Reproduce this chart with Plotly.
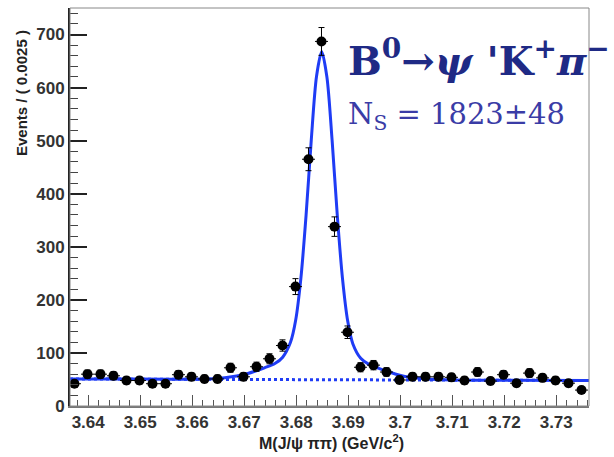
import numpy as np
import plotly.graph_objects as go

# ---- data ----
bin_width = 0.0025
bin_centers = np.round(3.63736 + bin_width * np.arange(40), 5)
counts = [42, 60, 60, 57, 48, 48, 42, 42, 59, 55,
          51, 51, 72, 55, 74, 89, 114, 225, 465, 687,
          338, 139, 73, 77, 64, 49, 55, 55, 55, 54,
          48, 64, 47, 59, 43, 62, 53, 48, 43, 30]

# fitted total PDF
fit_x = [3.6365, 3.6450, 3.6550, 3.6599, 3.6649, 3.6679, 3.6699, 3.6719, 3.6739,
         3.6759, 3.6774, 3.6789, 3.6799, 3.6809, 3.6819, 3.6829, 3.6839, 3.6849,
         3.6859, 3.6869, 3.6879, 3.6889, 3.6899, 3.6909, 3.6924, 3.6939, 3.6959,
         3.6979, 3.6999, 3.7019, 3.7049, 3.7099, 3.7200, 3.7363]
fit_y = [51.0, 50.8, 50.5, 50.4, 52.0, 55.5, 59.0, 65.0, 72.0,
         80.0, 92.0, 120.0, 162.0, 241.0, 360.0, 502.0, 621.0, 668.0,
         620.0, 501.0, 359.0, 240.0, 160.0, 117.0, 90.0, 79.0, 71.0,
         64.0, 58.0, 54.0, 51.0, 49.2, 48.6, 48.0]

# background component (dotted)
bkg_x = [3.6365, 3.7363]
bkg_y = [51.0, 48.0]

x_tickvals = [3.64, 3.65, 3.66, 3.67, 3.68, 3.69, 3.70, 3.71, 3.72, 3.73]
x_ticktext = ["3.64", "3.65", "3.66", "3.67", "3.68", "3.69", "3.7", "3.71", "3.72", "3.73"]
y_tickvals = [0, 100, 200, 300, 400, 500, 600, 700]

errors = np.sqrt(np.array(counts, dtype=float))

BLUE = "#1f3cf5"

fig = go.Figure()
fig.add_trace(go.Scatter(x=bkg_x, y=bkg_y, mode="lines",
                         line=dict(color=BLUE, width=3, dash="dot"),
                         showlegend=False, hoverinfo="skip"))
fig.add_trace(go.Scatter(x=fit_x, y=fit_y, mode="lines",
                         line=dict(color=BLUE, width=3, shape="spline", smoothing=0.8),
                         showlegend=False, hoverinfo="skip"))
fig.add_trace(go.Scatter(x=bin_centers, y=counts, mode="markers",
                         marker=dict(color="black", size=10),
                         error_y=dict(type="data", array=errors, color="black", thickness=1, width=3),
                         error_x=dict(type="constant", value=bin_width / 2, color="black", thickness=1, width=0),
                         showlegend=False))

tickfont = dict(family="Liberation Sans", size=17, color="#333333", weight="bold")

fig.update_layout(
    width=614, height=457,
    margin=dict(l=70, r=25, t=8, b=51),
    paper_bgcolor="white", plot_bgcolor="white",
    xaxis=dict(range=[3.6365, 3.7363], tickmode="array", tickvals=x_tickvals, ticktext=x_ticktext,
               ticks="inside", ticklen=11, tickwidth=1, tickcolor="#555555",
               showline=True, linecolor="#777777", linewidth=2,
               showgrid=False, zeroline=False, tickfont=tickfont,
               minor=dict(tick0=3.64, dtick=0.002, ticks="inside", ticklen=6,
                          tickcolor="#555555", tickwidth=1, showgrid=False)),
    yaxis=dict(range=[0, 750], tickmode="array", tickvals=y_tickvals,
               ticks="inside", ticklen=17, tickwidth=2, tickcolor="#222222",
               showline=True, linecolor="#222222", linewidth=2,
               showgrid=False, zeroline=False, tickfont=tickfont,
               minor=dict(tick0=0, dtick=20, ticks="inside", ticklen=8,
                          tickcolor="#444444", tickwidth=1, showgrid=False)),
    shapes=[dict(type="rect", xref="paper", yref="paper", x0=0, x1=1, y0=0, y1=1,
                 line=dict(color="#888888", width=1), layer="above")],
    annotations=[
        dict(text="Events / ( 0.0025 )", xref="paper", yref="paper",
             x=(22 - 70) / 519, y=(406 - 93) / 398, textangle=-90,
             xanchor="center", yanchor="middle", showarrow=False,
             font=dict(family="Liberation Sans", size=15, color="#222222", weight="bold")),
        dict(text="M(J/ψ ππ) (GeV/c<sup>2</sup>)", xref="paper", yref="paper",
             x=(331 - 70) / 519, y=(406 - 442) / 398,
             xanchor="center", yanchor="middle", showarrow=False,
             font=dict(family="Liberation Sans", size=16, color="#222222", weight="bold")),
        dict(text="<b>B<sup>0</sup>→<i>ψ</i> 'K<sup>+</sup><i>π</i><sup>−</sup></b>",
             xref="paper", yref="paper", x=(346 - 70) / 519, y=(406 - 58) / 398,
             xanchor="left", yanchor="middle", showarrow=False,
             font=dict(family="DejaVu Serif", size=40, color="#1f2a85")),
        dict(text="N<sub>S</sub> = 1823±48",
             xref="paper", yref="paper", x=(346 - 70) / 519, y=(406 - 116) / 398,
             xanchor="left", yanchor="middle", showarrow=False,
             font=dict(family="DejaVu Serif", size=29, color="#3a3ca6")),
    ],
)

fig.write_html("out.html")
